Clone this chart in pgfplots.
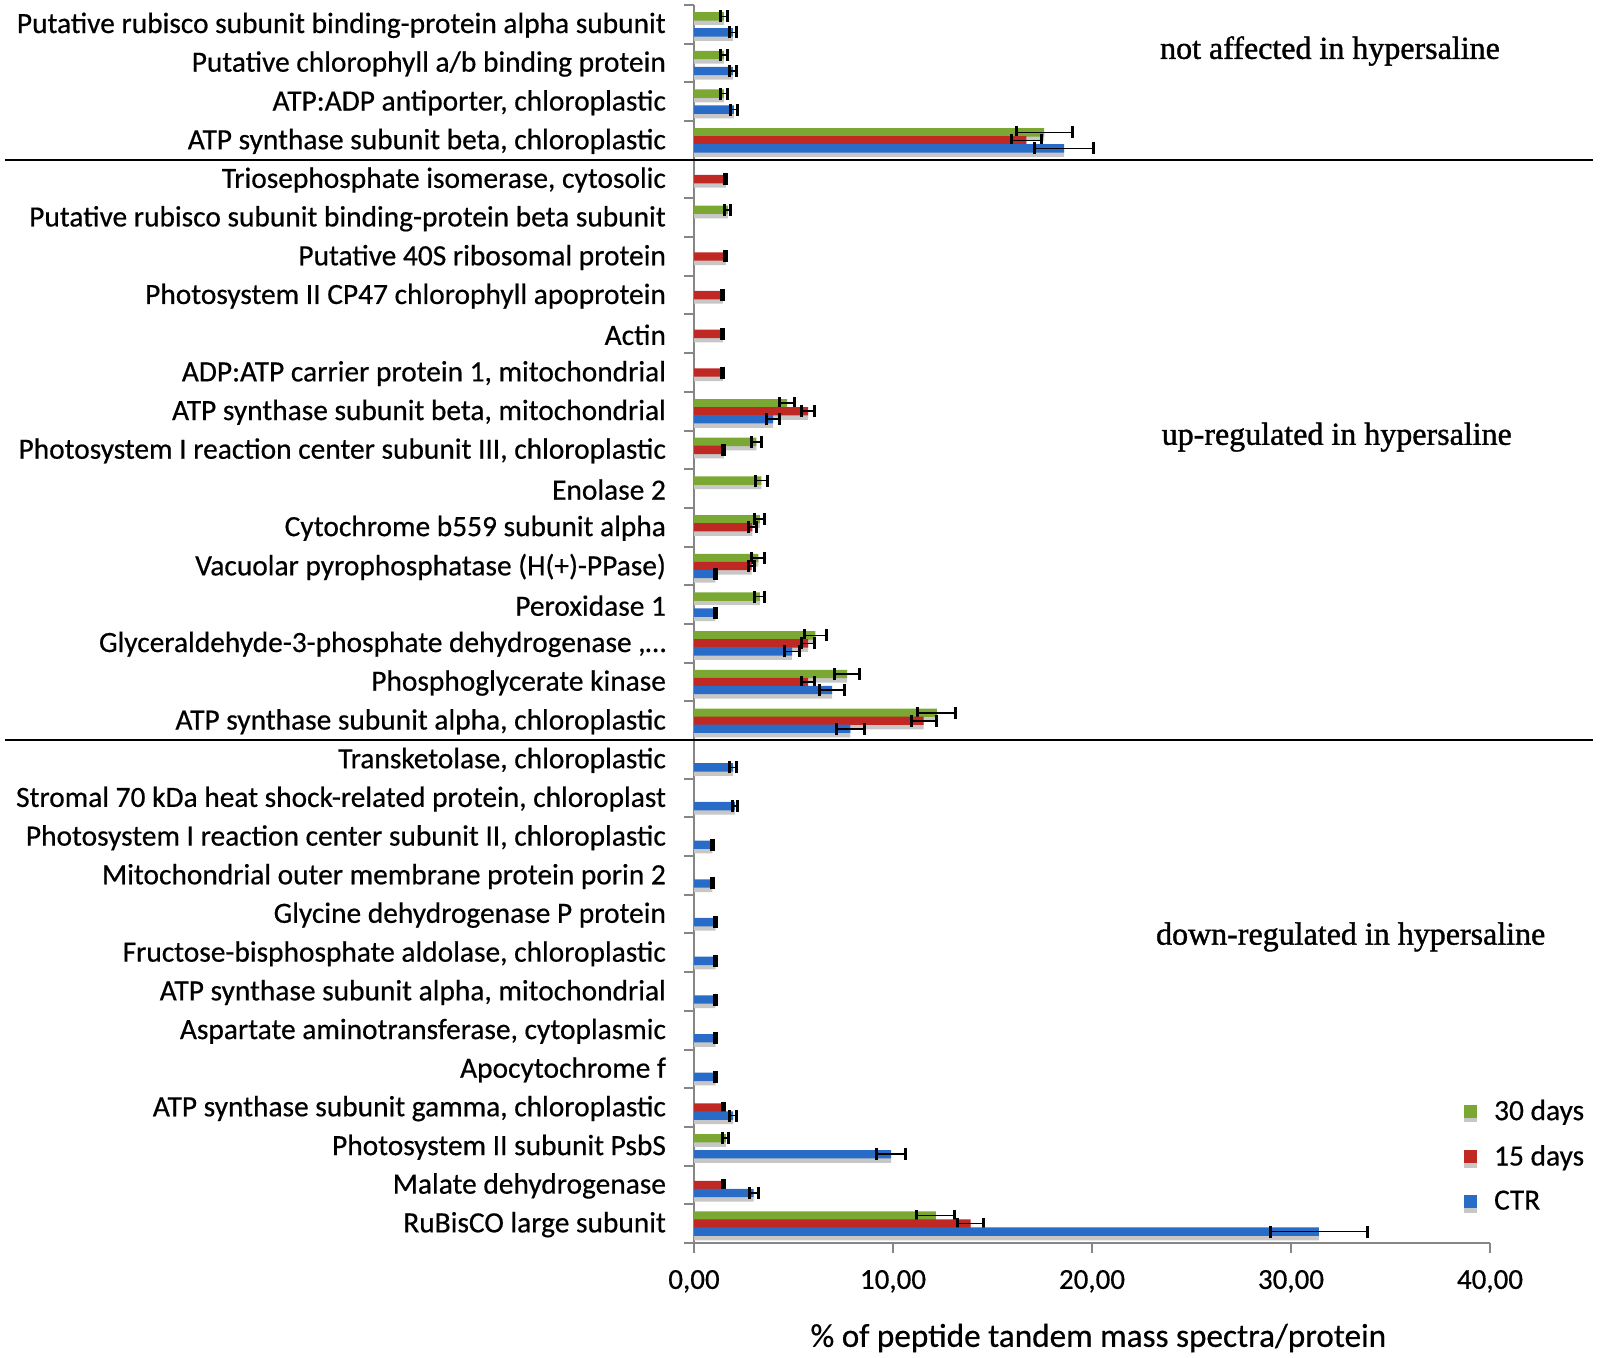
\documentclass[border=0pt]{standalone}
\usepackage{fontspec}
\setmainfont{Carlito}[FakeBold=0.5]
\newfontfamily\annfont{Liberation Serif}[FakeBold=1.2]
\usepackage{pgfplots}
\pgfplotsset{compat=1.18}
\definecolor{cgreen}{RGB}{122,168,50}
\definecolor{cred}{RGB}{192,40,36}
\definecolor{cblue}{RGB}{40,108,200}
\definecolor{axgray}{RGB}{134,134,134}
\begin{document}
\begin{tikzpicture}
\useasboundingbox (0,0) rectangle (800pt,679pt);
\begin{axis}[
  at={(347pt,57.5pt)}, anchor=south west,
  scale only axis, width=398pt, height=619pt,
  xbar, bar width=4.2pt,
  xmin=0, xmax=40, ymin=0.5, ymax=32.5,
  axis x line*=bottom, axis y line*=left,
  axis line style={axgray, line width=1pt},
  tick align=outside,
  major tick length=0pt,
  minor tick length=5pt,
  tick style={axgray, line width=1pt},
  minor tick style={axgray, line width=1pt},
  xtick={0,10,20,30,40},
  minor xtick={0,10,20,30,40},
  xticklabel style={font=\fontsize{14.5}{16}\selectfont, yshift=-10pt,
    /pgf/number format/.cd, fixed, fixed zerofill, precision=2, use comma, assume math mode=true},
  ytick={1,...,32},
  minor ytick={0.5,1.5,...,32.5},
  yticklabels={RuBisCO large subunit, Malate dehydrogenase, Photosystem II subunit PsbS,
    {ATP synthase subunit gamma, chloroplastic}, Apocytochrome f,
    {Aspartate aminotransferase, cytoplasmic}, {ATP synthase subunit alpha, mitochondrial},
    {Fructose-bisphosphate aldolase, chloroplastic}, Glycine dehydrogenase P protein,
    Mitochondrial outer membrane protein porin 2,
    {Photosystem I reaction center subunit II, chloroplastic},
    {Stromal 70 kDa heat shock-related protein, chloroplast},
    {Transketolase, chloroplastic}, {ATP synthase subunit alpha, chloroplastic},
    Phosphoglycerate kinase\ , {Glyceraldehyde-3-phosphate dehydrogenase ,…},
    Peroxidase 1, Vacuolar pyrophosphatase (H(+)-PPase), Cytochrome b559 subunit alpha,
    Enolase 2, {Photosystem I reaction center subunit III, chloroplastic},
    {ATP synthase subunit beta, mitochondrial}, {ADP:ATP carrier protein 1, mitochondrial},
    Actin, Photosystem II CP47 chlorophyll apoprotein, Putative 40S ribosomal protein,
    Putative rubisco subunit binding-protein beta subunit\ ,
    {Triosephosphate isomerase, cytosolic}, {ATP synthase subunit beta, chloroplastic},
    {ATP:ADP antiporter, chloroplastic}, Putative chlorophyll a/b binding protein,
    Putative rubisco subunit binding-protein alpha subunit\ },
  yticklabel style={font=\fontsize{14.7}{16}\selectfont, xshift=-10.5pt, yshift=-0.5pt},
  xlabel={\% of peptide tandem mass spectra/protein},
  every axis x label/.style={at={(axis description cs:0.508,0)}, anchor=center, yshift=-47.5pt,
    font=\fontsize{16.6}{18}\selectfont},
  clip=false,
  legend style={at={(axis description cs:0.967,0.1193)}, anchor=north west, draw=none, fill=none,
    font=\fontsize{14.7}{16}\selectfont, row sep=7pt, inner sep=0pt},
  legend cell align=left,
  legend image code/.code={\fill[#1] (0pt,-3.3pt) rectangle (6.6pt,3.3pt); \path (13pt,0pt);},
  error bars/error bar style={black, line width=0.8pt},
  error bars/error mark=|,
  error bars/error mark options={black, line width=1.5pt, mark size=3pt},
]
\addplot[draw=none, fill=cgreen, bar shift=4.0pt,
  preaction={fill=black!22, draw=none, transform canvas={yshift=-2.2pt}},
  error bars/.cd, x dir=both, x explicit]
coordinates {
  (1.5,32) +- (0.18,0) (1.5,31) +- (0.18,0) (1.5,30) +- (0.18,0)
  (17.6,29) +- (1.4,0) (1.7,27) +- (0.15,0)
  (4.68,22) +- (0.38,0) (3.14,21) +- (0.25,0) (3.39,20) +- (0.3,0)
  (3.31,19) +- (0.25,0) (3.23,18) +- (0.33,0) (3.31,17) +- (0.25,0)
  (6.1,16) +- (0.54,0) (7.69,15) +- (0.63,0) (12.2,14) +- (0.96,0)
  (1.6,3) +- (0.15,0) (12.15,1) +- (0.96,0)
};
\addlegendentry{30 days}
\addplot[draw=none, fill=cred, bar shift=0pt,
  preaction={fill=black!22, draw=none, transform canvas={yshift=-2.2pt}},
  error bars/.cd, x dir=both, x explicit]
coordinates {
  (16.7,29) +- (0.75,0) (1.6,28) +- (0.05,0) (1.6,26) +- (0.05,0)
  (1.45,25) +- (0.05,0) (1.45,24) +- (0.05,0) (1.45,23) +- (0.05,0)
  (5.74,22) +- (0.33,0) (1.5,21) +- (0.05,0) (2.93,19) +- (0.2,0)
  (2.89,18) +- (0.17,0) (5.74,16) +- (0.33,0) (5.74,15) +- (0.33,0)
  (11.54,14) +- (0.63,0) (1.5,4) +- (0.05,0) (1.5,2) +- (0.05,0)
  (13.9,1) +- (0.66,0)
};
\addlegendentry{15 days}
\addplot[draw=none, fill=cblue, bar shift=-4.0pt,
  preaction={fill=black!22, draw=none, transform canvas={yshift=-2.2pt}},
  error bars/.cd, x dir=both, x explicit]
coordinates {
  (1.95,32) +- (0.18,0) (1.95,31) +- (0.18,0) (2.0,30) +- (0.18,0)
  (18.6,29) +- (1.5,0) (3.98,22) +- (0.33,0) (1.07,18) +- (0.05,0)
  (1.07,17) +- (0.05,0) (4.93,16) +- (0.38,0) (6.94,15) +- (0.63,0)
  (7.86,14) +- (0.71,0) (1.97,13) +- (0.17,0) (2.06,12) +- (0.12,0)
  (0.92,11) +- (0.05,0) (0.92,10) +- (0.05,0) (1.09,9) +- (0.05,0)
  (1.09,8) +- (0.05,0) (1.07,7) +- (0.05,0) (1.09,6) +- (0.05,0)
  (1.09,5) +- (0.05,0) (1.97,4) +- (0.17,0) (9.9,3) +- (0.75,0)
  (3.0,2) +- (0.23,0) (31.4,1) +- (2.43,0)
};
\addlegendentry{CTR}
\draw[black, line width=1.2pt] (axis cs:-34.6,28.5) -- (axis cs:45.2,28.5);
\draw[black, line width=1.2pt] (axis cs:-34.6,13.5) -- (axis cs:45.2,13.5);
\node[font=\annfont\fontsize{16}{18}\selectfont] at (axis cs:31.96,31.31) {not affected in hypersaline};
\node[font=\annfont\fontsize{16}{18}\selectfont] at (axis cs:32.3,21.33) {up-regulated in hypersaline};
\node[font=\annfont\fontsize{16}{18}\selectfont] at (axis cs:33.0,8.41) {down-regulated in hypersaline};
\end{axis}
\end{tikzpicture}
\end{document}
